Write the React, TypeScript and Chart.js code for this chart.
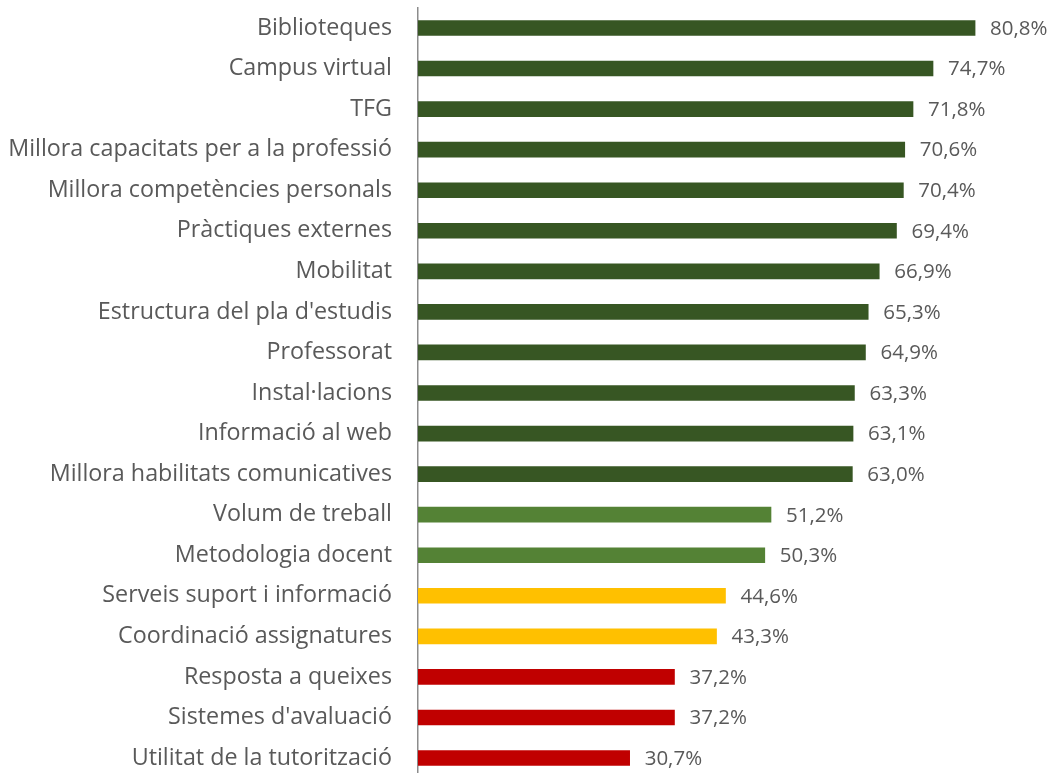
import React, { useEffect, useRef } from "react";
import { Chart, registerables } from "chart.js";

Chart.register(...registerables);

const categories = [
  "Biblioteques",
  "Campus virtual",
  "TFG",
  "Millora capacitats per a la professió",
  "Millora competències personals",
  "Pràctiques externes",
  "Mobilitat",
  "Estructura del pla d'estudis",
  "Professorat",
  "Instal·lacions",
  "Informació al web",
  "Millora habilitats comunicatives",
  "Volum de treball",
  "Metodologia docent",
  "Serveis suport i informació",
  "Coordinació assignatures",
  "Resposta a queixes",
  "Sistemes d'avaluació",
  "Utilitat de la tutorització",
];

const values = [
  80.8, 74.7, 71.8, 70.6, 70.4, 69.4, 66.9, 65.3, 64.9, 63.3, 63.1, 63.0,
  51.2, 50.3, 44.6, 43.3, 37.2, 37.2, 30.7,
];

const FONT = "'Open Sans', 'Noto Sans', sans-serif";
const TEXT = "#595959";

function colorFor(v: number): string {
  if (v >= 60) return "#375623";
  if (v >= 50) return "#548235";
  if (v >= 40) return "#FFC000";
  return "#C00000";
}

const valueLabels = {
  id: "valueLabels",
  afterDatasetsDraw(chart: any) {
    const ctx = chart.ctx;
    const meta = chart.getDatasetMeta(0);
    ctx.save();
    ctx.font = `20.5px ${FONT}`;
    ctx.fillStyle = TEXT;
    ctx.textAlign = "left";
    ctx.textBaseline = "middle";
    meta.data.forEach((bar: any, i: number) => {
      const txt = values[i].toFixed(1).replace(".", ",") + "%";
      ctx.fillText(txt, bar.x + 15, bar.y + 1);
    });
    ctx.restore();
  },
};

export default function App() {
  const ref = useRef<HTMLCanvasElement | null>(null);
  useEffect(() => {
    if (!ref.current) return;
    const chart = new Chart(ref.current, {
      type: "bar",
      data: {
        labels: categories,
        datasets: [
          {
            data: values,
            backgroundColor: values.map(colorFor),
            borderWidth: 0,
            barThickness: 15,
          },
        ],
      },
      options: {
        indexAxis: "y",
        animation: false,
        responsive: false,
        maintainAspectRatio: false,
        layout: { padding: { top: 7.7, bottom: 11.7, left: 0, right: 13.5 } },
        plugins: { legend: { display: false }, tooltip: { enabled: false } },
        scales: {
          x: {
            min: 0,
            max: 90,
            display: false,
            grid: { display: false },
          },
          y: {
            grid: { display: false, drawTicks: false },
            border: { display: true, color: "#8c8c8c", width: 1.5 },
            ticks: {
              color: TEXT,
              font: { family: FONT, size: 23.3 },
              padding: 26,
              autoSkip: false,
            },
            afterFit(scale: any) {
              scale.width = 418;
              scale.paddingTop = 0;
              scale.paddingBottom = 0;
            },
          },
        },
      },
      plugins: [valueLabels],
    });
    return () => chart.destroy();
  }, []);
  return (
    <div
      style={{
        position: "fixed",
        left: 0,
        top: 0,
        width: 1052,
        height: 773,
        overflow: "hidden",
        background: "#fff",
      }}
    >
      <canvas ref={ref} width={1052} height={790} style={{ display: "block" }} />
    </div>
  );
}
